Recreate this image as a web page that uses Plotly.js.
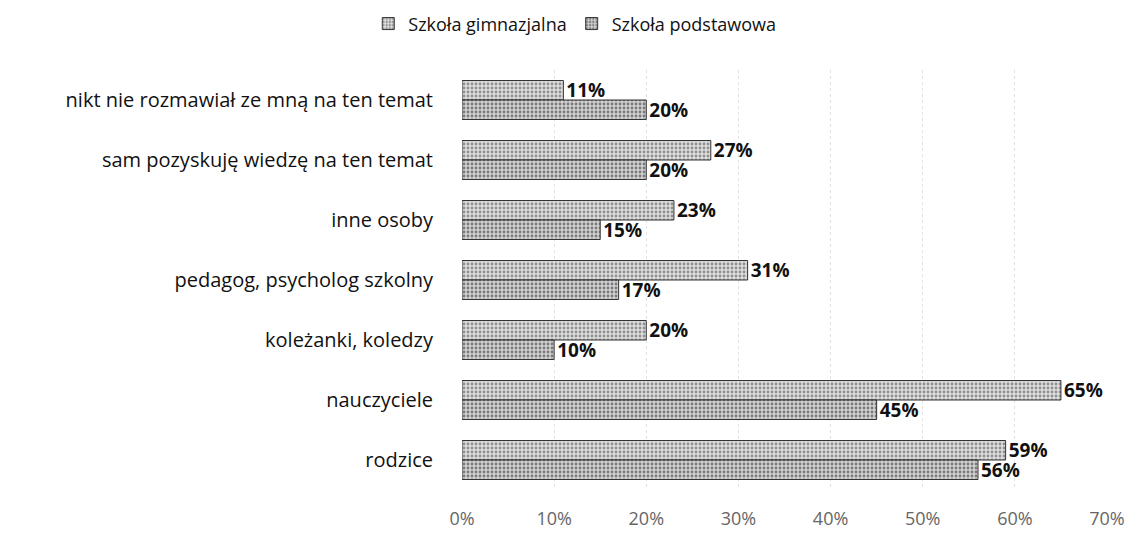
<!DOCTYPE html>
<html>
<head>
<meta charset="utf-8">
<script src="https://cdn.plot.ly/plotly-3.0.1.min.js"></script>
<style>html,body{margin:0;padding:0;background:#fff;}#chart{width:1127px;height:535px;}</style>
</head>
<body>
<div id="chart"></div>
<script>
var categories = [
  "nikt nie rozmawiał ze mną na ten temat",
  "sam pozyskuję wiedzę na ten temat",
  "inne osoby",
  "pedagog, psycholog szkolny",
  "koleżanki, koledzy",
  "nauczyciele",
  "rodzice"
];
var seriesNames = ["Szkoła gimnazjalna", "Szkoła podstawowa"];
var gimnazjalna = [11, 27, 23, 31, 20, 65, 59];
var podstawowa = [20, 20, 15, 17, 10, 45, 56];
var tickVals = [0, 10, 20, 30, 40, 50, 60, 70];
var tickText = ["0%", "10%", "20%", "30%", "40%", "50%", "60%", "70%"];

function mk(name, vals, bg, fg) {
  return {
    type: "bar",
    orientation: "h",
    name: name,
    y: categories,
    x: vals,
    text: vals.map(function (v) { return v + "%"; }),
    texttemplate: "%{text}",
    textposition: "outside",
    constraintext: "none",
    cliponaxis: false,
    textfont: {family: "'Open Sans', sans-serif", size: 19, color: "#111", weight: "bold"},
    marker: {
      color: bg,
      pattern: {shape: ".", bgcolor: bg, fgcolor: fg, size: 4, solidity: 0.4},
      line: {color: "#333", width: 1}
    },
    hoverinfo: "skip"
  };
}

var data = [
  mk(seriesNames[0], gimnazjalna, "#dedede", "#909090"),
  mk(seriesNames[1], podstawowa, "#d2d2d2", "#7a7a7a")
];

var layout = {
  width: 1127,
  height: 535,
  paper_bgcolor: "#fff",
  plot_bgcolor: "#fff",
  margin: {l: 462, r: 20, t: 70, b: 45},
  barmode: "group",
  bargap: 0.35,
  bargroupgap: 0,
  font: {family: "'Open Sans', sans-serif", color: "#111"},
  showlegend: true,
  legend: {
    orientation: "h",
    xref: "container", yref: "container",
    x: 0.51, xanchor: "center",
    y: 0.99, yanchor: "top",
    font: {size: 18, color: "#111"},
    traceorder: "normal"
  },
  xaxis: {
    range: [0, 70],
    tickvals: tickVals,
    ticktext: tickText,
    tickfont: {size: 18, color: "#666"},
    ticklabeloverflow: "allow",
    showgrid: true,
    gridcolor: "#e2e2e2",
    griddash: "dot",
    gridwidth: 1,
    zeroline: false,
    showline: false,
    ticks: "outside",
    ticklen: 12,
    tickcolor: "rgba(0,0,0,0)",
    automargin: false
  },
  yaxis: {
    autorange: "reversed",
    type: "category",
    tickfont: {size: 20, color: "#111"},
    showgrid: false,
    zeroline: false,
    showline: false,
    ticks: "outside",
    ticklen: 24,
    tickcolor: "rgba(0,0,0,0)",
    automargin: false
  }
};

Plotly.newPlot("chart", data, layout, {displayModeBar: false, staticPlot: true});
</script>
</body>
</html>
